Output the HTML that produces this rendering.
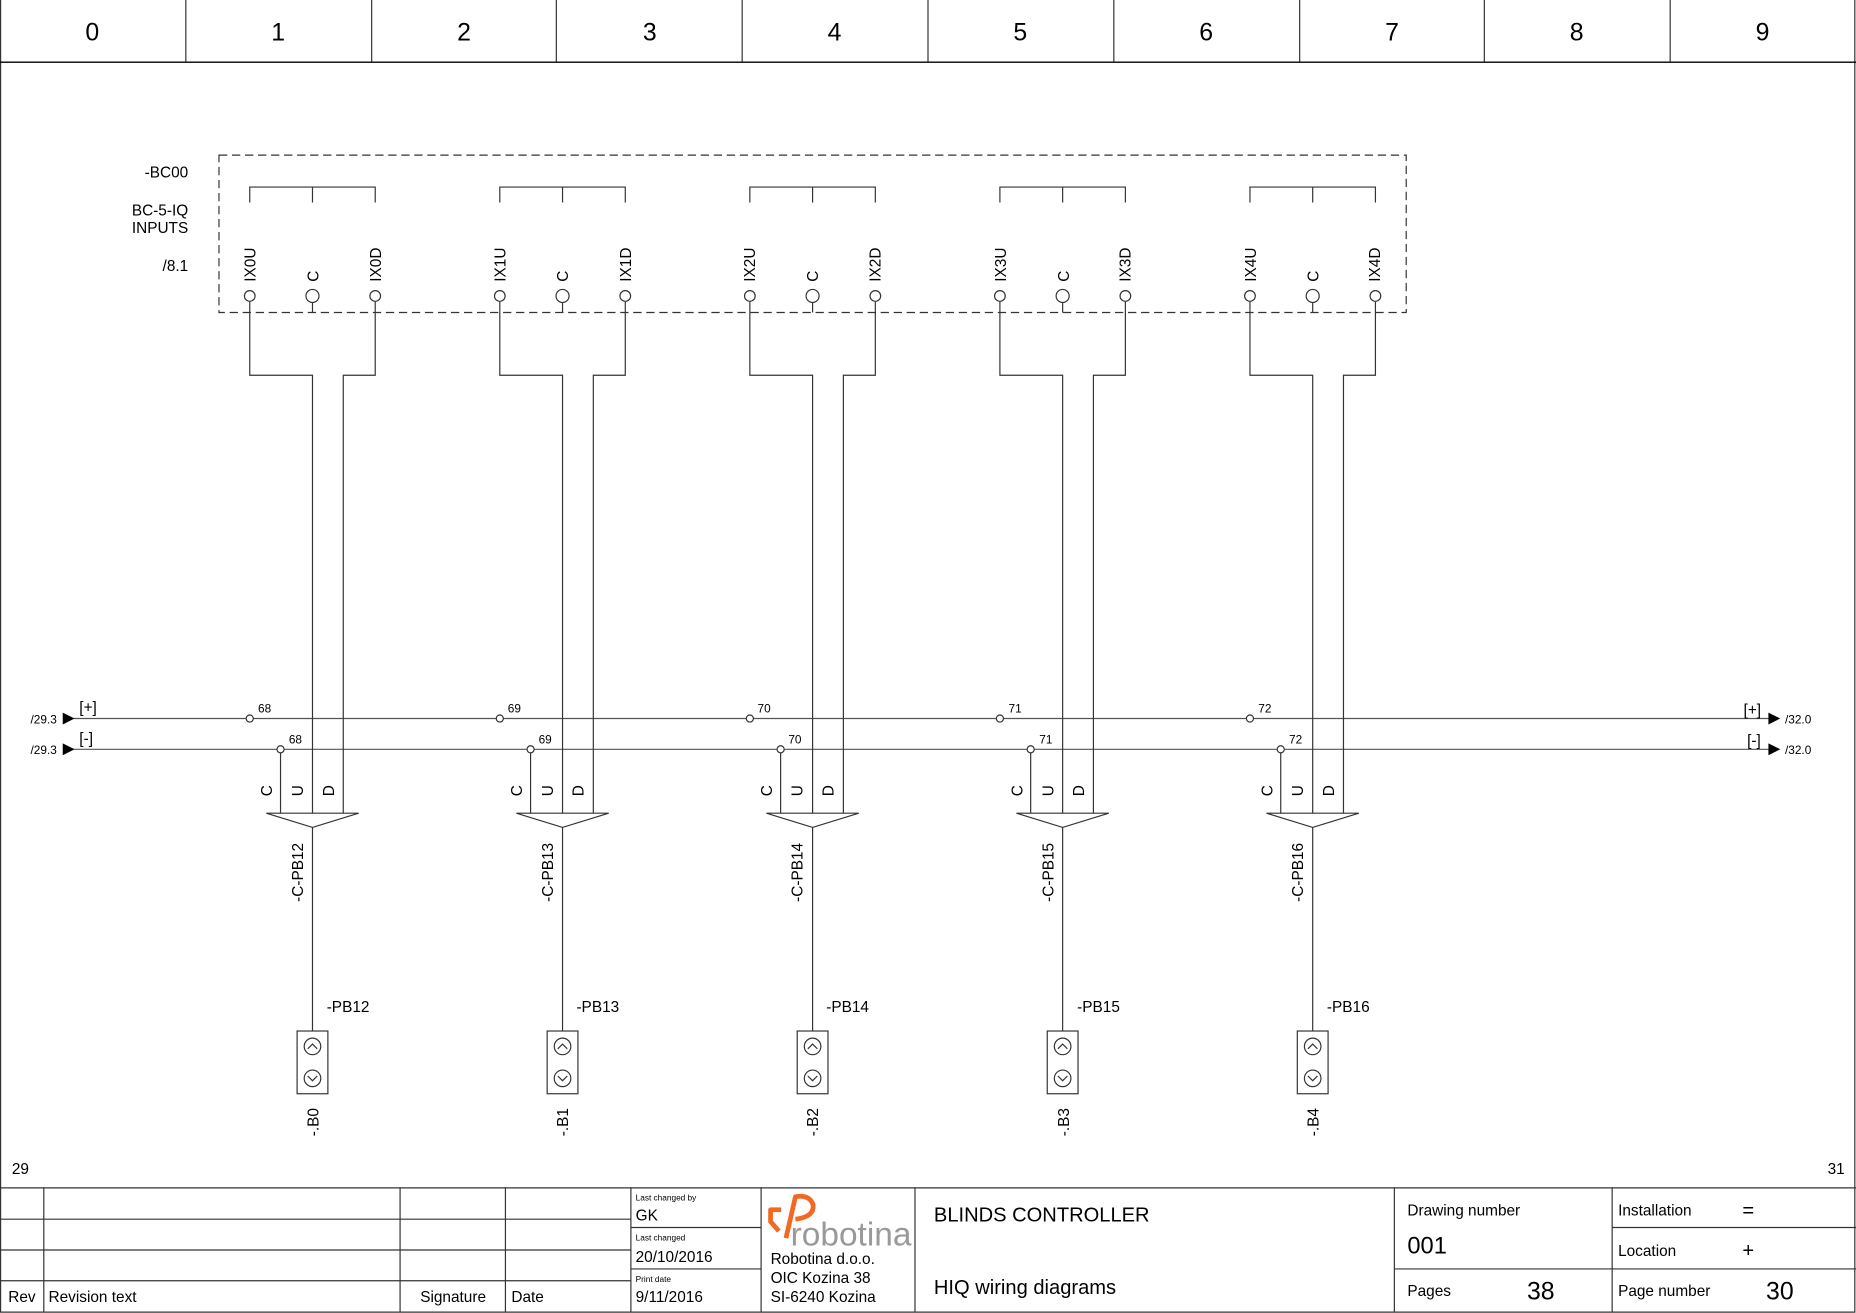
<!DOCTYPE html>
<html><head><meta charset="utf-8"><style>
html,body{margin:0;padding:0;background:#fff;}
svg{display:block;}
text{font-family:"Liberation Sans",sans-serif;fill:#000;}
</style></head><body>
<svg width="1856" height="1313" viewBox="0 0 1568 1109.2" xmlns="http://www.w3.org/2000/svg">
<g fill="none" stroke="#333" stroke-width="1">
<!-- outer frame -->
<path d="M0.5 0 V1108.5 H1567 V0"/>
<path d="M0 52.5 H1568" stroke="#000" stroke-width="1.2"/>
<path d="M157 0V52 M314 0V52 M470 0V52 M627 0V52 M784 0V52 M941 0V52 M1098 0V52 M1254 0V52 M1411 0V52"/>
<!-- dashed box -->
<rect x="185" y="131" width="1003" height="133" stroke-dasharray="7,4"/>
<!-- busses -->
<path d="M62 607 H1496 M62 633 H1496" stroke="#555"/>
</g>
<g fill="#000">
<path d="M53 602 L63 607 L53 612Z M53 628 L63 633 L53 638Z M1494 602 L1504 607 L1494 612Z M1494 628 L1504 633 L1494 638Z"/>
</g>
<g font-size="10">
<text x="48" y="611" text-anchor="end">/29.3</text>
<text x="48" y="637" text-anchor="end">/29.3</text>
<text x="1508" y="611">/32.0</text>
<text x="1508" y="637">/32.0</text>
</g>
<g font-size="13">
<text x="67" y="602">[+]</text>
<text x="67" y="628">[-]</text>
<text x="1473" y="604">[+]</text>
<text x="1476" y="630">[-]</text>
</g>
<!-- header numbers -->
<g font-size="21" text-anchor="middle">
<text x="78" y="34">0</text><text x="235" y="34">1</text><text x="392" y="34">2</text><text x="549" y="34">3</text><text x="705" y="34">4</text><text x="862" y="34">5</text><text x="1019" y="34">6</text><text x="1176" y="34">7</text><text x="1332" y="34">8</text><text x="1489" y="34">9</text>
</g>
<g font-size="13" text-anchor="end">
<text x="159" y="150">-BC00</text>
<text x="159" y="182">BC-5-IQ</text>
<text x="159" y="197">INPUTS</text>
<text x="159" y="229">/8.1</text>
</g>
<text x="10" y="992" font-size="13">29</text>
<text x="1544" y="992" font-size="13">31</text>

<!-- group template instances -->
<g id="g0">
<g fill="none" stroke="#333" stroke-width="1">
<path d="M211 171 V158 H317 V171 M264 158 V171"/>
<circle cx="211" cy="250" r="4.5"/><circle cx="264" cy="250" r="5.5"/><circle cx="317" cy="250" r="4.5"/>
<path d="M211 255 V317 H264 V687 M317 255 V317 H290 V687 M264 255.5 V264 M237 636 V687" />
<path d="M225 687 H303 L264 699 Z M264 699 V871"/>
<rect x="251" y="871" width="26" height="53"/>
<circle cx="264" cy="884" r="7"/><circle cx="264" cy="911" r="7"/>
<path d="M260 886 L264 882 L268 886 M260 909 L264 913 L268 909"/>
<circle cx="211" cy="607" r="3" fill="#fff"/><circle cx="237" cy="633" r="3" fill="#fff"/>
</g>
</g>

<!-- copy via use for shapes -->
<use href="#g0" transform="translate(211.25,0)"/>
<use href="#g0" transform="translate(422.5,0)"/>
<use href="#g0" transform="translate(633.75,0)"/>
<use href="#g0" transform="translate(845,0)"/>

<!-- labels per group -->
<g font-size="13">
<text transform="translate(216,238) rotate(-90)">IX0U</text>
<text transform="translate(269,238) rotate(-90)">C</text>
<text transform="translate(322,238) rotate(-90)">IX0D</text>
<text transform="translate(427,238) rotate(-90)">IX1U</text>
<text transform="translate(480,238) rotate(-90)">C</text>
<text transform="translate(533,238) rotate(-90)">IX1D</text>
<text transform="translate(638,238) rotate(-90)">IX2U</text>
<text transform="translate(691,238) rotate(-90)">C</text>
<text transform="translate(744,238) rotate(-90)">IX2D</text>
<text transform="translate(850,238) rotate(-90)">IX3U</text>
<text transform="translate(903,238) rotate(-90)">C</text>
<text transform="translate(955,238) rotate(-90)">IX3D</text>
<text transform="translate(1061,238) rotate(-90)">IX4U</text>
<text transform="translate(1114,238) rotate(-90)">C</text>
<text transform="translate(1166,238) rotate(-90)">IX4D</text>
</g>
<g font-size="10">
<text x="218" y="602">68</text><text x="244" y="628">68</text>
<text x="429" y="602">69</text><text x="455" y="628">69</text>
<text x="640" y="602">70</text><text x="666" y="628">70</text>
<text x="852" y="602">71</text><text x="878" y="628">71</text>
<text x="1063" y="602">72</text><text x="1089" y="628">72</text>
</g>
<g font-size="13" text-anchor="middle">
<text transform="translate(230,668) rotate(-90)">C</text><text transform="translate(256,668) rotate(-90)">U</text><text transform="translate(282,668) rotate(-90)">D</text>
<text transform="translate(441,668) rotate(-90)">C</text><text transform="translate(467,668) rotate(-90)">U</text><text transform="translate(493,668) rotate(-90)">D</text>
<text transform="translate(652,668) rotate(-90)">C</text><text transform="translate(678,668) rotate(-90)">U</text><text transform="translate(704,668) rotate(-90)">D</text>
<text transform="translate(864,668) rotate(-90)">C</text><text transform="translate(890,668) rotate(-90)">U</text><text transform="translate(916,668) rotate(-90)">D</text>
<text transform="translate(1075,668) rotate(-90)">C</text><text transform="translate(1101,668) rotate(-90)">U</text><text transform="translate(1127,668) rotate(-90)">D</text>
<text transform="translate(256,737) rotate(-90)">-C-PB12</text>
<text transform="translate(467,737) rotate(-90)">-C-PB13</text>
<text transform="translate(678,737) rotate(-90)">-C-PB14</text>
<text transform="translate(890,737) rotate(-90)">-C-PB15</text>
<text transform="translate(1101,737) rotate(-90)">-C-PB16</text>
<text transform="translate(269,948) rotate(-90)">-.B0</text>
<text transform="translate(480,948) rotate(-90)">-.B1</text>
<text transform="translate(691,948) rotate(-90)">-.B2</text>
<text transform="translate(903,948) rotate(-90)">-.B3</text>
<text transform="translate(1114,948) rotate(-90)">-.B4</text>
</g>
<g font-size="13">
<text x="276" y="855">-PB12</text>
<text x="487" y="855">-PB13</text>
<text x="698" y="855">-PB14</text>
<text x="910" y="855">-PB15</text>
<text x="1121" y="855">-PB16</text>
</g>

<!-- title block -->
<g fill="none" stroke="#333" stroke-width="1">
<path d="M0 1003.5 H1568"/>
<path d="M37 1003V1108 M338 1003V1108 M427 1003V1108 M533 1003V1108 M643 1003V1108 M773 1003V1108 M1178 1003V1108 M1362 1003V1108"/>
<path d="M0 1030 H533 M0 1056 H533 M0 1082 H533"/>
<path d="M533 1037 H643 M533 1072 H643"/>
<path d="M1178 1072 H1362 M1362 1037 H1568 M1362 1072 H1568"/>
</g>
<g font-size="13">
<text x="7" y="1100">Rev</text>
<text x="41" y="1100">Revision text</text>
<text x="355" y="1100">Signature</text>
<text x="432" y="1100">Date</text>
<text x="537" y="1014" font-size="7">Last changed by</text>
<text x="537" y="1031" font-size="13">GK</text>
<text x="537" y="1048" font-size="7">Last changed</text>
<text x="537" y="1066">20/10/2016</text>
<text x="537" y="1083" font-size="7">Print date</text>
<text x="537" y="1100">9/11/2016</text>
<text x="651" y="1068">Robotina d.o.o.</text>
<text x="651" y="1084">OIC Kozina 38</text>
<text x="651" y="1100">SI-6240 Kozina</text>
<text x="789" y="1032" font-size="17">BLINDS CONTROLLER</text>
<text x="789" y="1093" font-size="17">HIQ wiring diagrams</text>
<text x="1189" y="1027">Drawing number</text>
<text x="1189" y="1059" font-size="20">001</text>
<text x="1189" y="1095">Pages</text>
<text x="1290" y="1098" font-size="21">38</text>
<text x="1367" y="1027">Installation</text>
<text x="1472" y="1028" font-size="17">=</text>
<text x="1367" y="1061">Location</text>
<text x="1472" y="1062" font-size="17">+</text>
<text x="1367" y="1095">Page number</text>
<text x="1492" y="1098" font-size="21">30</text>
</g>
<text x="668" y="1052" font-size="28" fill="#999" style="fill:#999" textLength="102" lengthAdjust="spacingAndGlyphs">robotina</text>
<g fill="none" stroke="#f26a21" stroke-width="4" stroke-linejoin="round">
<path d="M660 1022 H651 V1032 L658 1040"/>
<path d="M664 1046 L672 1011 Q684 1009 687 1018 Q688 1028 672 1030"/>
</g>
</svg>
</body></html>
